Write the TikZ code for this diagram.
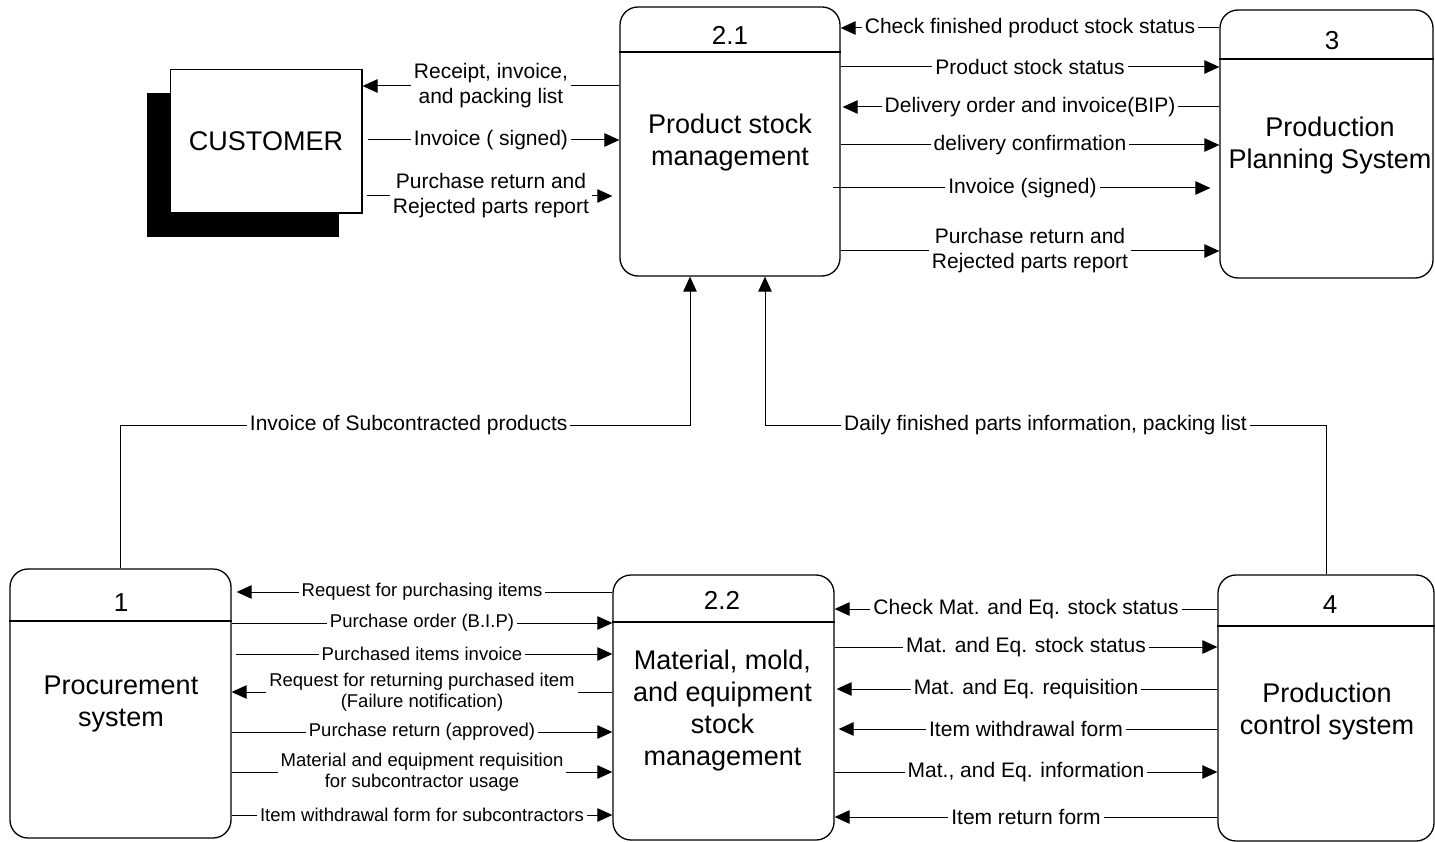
\documentclass[tikz,border=0pt]{standalone}
\usepackage{fontspec}
\setmainfont{Liberation Sans}
\usetikzlibrary{arrows.meta}

\tikzset{
  proc/.style={draw, line width=1.3pt, rounded corners=18pt, fill=white, inner sep=0pt},
  extent/.style={draw, line width=1.2pt, fill=white, inner sep=0pt},
  shade/.style={fill=black, inner sep=0pt},
  header/.style={line width=1.3pt},
  flow/.style={line width=1pt, -{Triangle[length=15pt,width=13.5pt]}},
  lab/.style={fill=white, inner xsep=3pt, inner ysep=1pt, align=center,
              font=\fontsize{21}{25}\selectfont},
  slab/.style={lab, font=\fontsize{18.5}{21.5}\selectfont},
  ptext/.style={align=center, font=\fontsize{27}{32}\selectfont},
  pnum/.style={font=\fontsize{26}{30}\selectfont},
}

\begin{document}
\begin{tikzpicture}[x=1pt, y=-1pt]
\useasboundingbox (0,0) rectangle (1435,842);

% external entity with its drop shadow
\node[shade, minimum width=192pt, minimum height=144pt] (custshadow) at (243,165) {};
\node[extent, minimum width=191.5pt, minimum height=143.5pt] (cust) at (266.25,141.25) {};
\node[ptext] (custtxt) at (266,141) {CUSTOMER};

% processes
\node[proc, minimum width=220pt, minimum height=269pt] (p21) at (730,141.5) {};
\node[proc, minimum width=213pt, minimum height=268pt] (p3) at (1326.5,144) {};
\node[proc, minimum width=221pt, minimum height=269pt] (p1) at (120.5,703.5) {};
\node[proc, minimum width=221pt, minimum height=265pt] (p22) at (723.5,707.5) {};
\node[proc, minimum width=216pt, minimum height=266pt] (p4) at (1326,708) {};

% header separators
\draw[header] (p21.west |- 0,52) -- (p21.east |- 0,52);
\draw[header] (p3.west |- 0,59) -- (p3.east |- 0,59);
\draw[header] (p1.west |- 0,621) -- (p1.east |- 0,621);
\draw[header] (p22.west |- 0,622) -- (p22.east |- 0,622);
\draw[header] (p4.west |- 0,626) -- (p4.east |- 0,626);

% process numbers
\node[pnum] (p21num) at (730,35) {2.1};
\node[pnum] (p3num) at (1332,41) {3};
\node[pnum] (p1num) at (121,603) {1};
\node[pnum] (p22num) at (722,600) {2.2};
\node[pnum] (p4num) at (1330,605) {4};

% process names
\node[ptext] (p21txt) at (730,142.5) {Product stock\\management};
\node[ptext] (p3txt) at (1330,146) {Production\\Planning System};
\node[ptext] (p1txt) at (121,704.5) {Procurement\\system};
\node[ptext] (p22txt) at (722.5,710.5) {Material, mold,\\and equipment\\stock\\management};
\node[ptext] (p4txt) at (1327,711.5) {Production\\control system};

% customer <-> product stock management
\draw[flow] (p21.west |- 0,86) -- node[lab]{Receipt, invoice,\\and packing list} (cust.east |- 0,86);
\draw[flow, shorten <=5pt] (cust.east |- 0,140) -- node[lab]{Invoice ( signed)} (p21.west |- 0,140);
\draw[flow, shorten <=4pt, shorten >=7pt] (cust.east |- 0,196) -- node[lab]{Purchase return and\\Rejected parts report} (p21.west |- 0,196);

% product stock management <-> production planning
\draw[flow] (p3.west |- 0,28) -- node[lab]{Check finished product stock status} (p21.east |- 0,28);
\draw[flow] (p21.east |- 0,67) -- node[lab]{Product stock status} (p3.west |- 0,67);
\draw[flow, shorten >=2pt] (p3.west |- 0,107) -- node[lab]{Delivery order and invoice(BIP)} (p21.east |- 0,107);
\draw[flow] (p21.east |- 0,145) -- node[lab]{delivery confirmation} (p3.west |- 0,145);
\draw[flow, shorten <=-8pt, shorten >=9pt] (p21.east |- 0,188) -- node[lab, pos=0.48]{Invoice (signed)} (p3.west |- 0,188);
\draw[flow] (p21.east |- 0,251) -- node[lab]{Purchase return and\\Rejected parts report} (p3.west |- 0,251);

% flows rising into product stock management
\coordinate (j1) at (690,425);
\coordinate (j2) at (765,425);
\draw[flow] (p1.north) |- node[lab, pos=0.753]{Invoice of Subcontracted products} (j1) -- (p21.south -| j1);
\draw[flow] (p4.north) |- node[lab, pos=0.75]{Daily finished parts information, packing list} (j2) -- (p21.south -| j2);

% procurement <-> material stock management
\draw[flow, shorten >=5pt] (p22.west |- 0,592) -- node[slab]{Request for purchasing items} (p1.east |- 0,592);
\draw[flow] (p1.east |- 0,623) -- node[slab]{Purchase order (B.I.P)} (p22.west |- 0,623);
\draw[flow, shorten <=4pt] (p1.east |- 0,654) -- node[slab]{Purchased items invoice} (p22.west |- 0,654);
\draw[flow] (p22.west |- 0,692) -- node[slab]{Request for returning purchased item\\(Failure notification)} (p1.east |- 0,692);
\draw[flow] (p1.east |- 0,732) -- node[slab]{Purchase return (approved)} (p22.west |- 0,732);
\draw[flow] (p1.east |- 0,772) -- node[slab]{Material and equipment requisition\\for subcontractor usage} (p22.west |- 0,772);
\draw[flow] (p1.east |- 0,815) -- node[slab]{Item withdrawal form for subcontractors} (p22.west |- 0,815);

% material stock management <-> production control
\draw[flow] (p4.west |- 0,609) -- node[lab]{Check Mat. and Eq. stock status} (p22.east |- 0,609);
\draw[flow] (p22.east |- 0,647) -- node[lab]{Mat. and Eq. stock status} (p4.west |- 0,647);
\draw[flow, shorten >=2pt] (p4.west |- 0,689) -- node[lab]{Mat. and Eq. requisition} (p22.east |- 0,689);
\draw[flow, shorten >=4pt] (p4.west |- 0,729) -- node[lab]{Item withdrawal form} (p22.east |- 0,729);
\draw[flow] (p22.east |- 0,772) -- node[lab]{Mat., and Eq. information} (p4.west |- 0,772);
\draw[flow] (p4.west |- 0,817) -- node[lab]{Item return form} (p22.east |- 0,817);

\end{tikzpicture}
\end{document}
